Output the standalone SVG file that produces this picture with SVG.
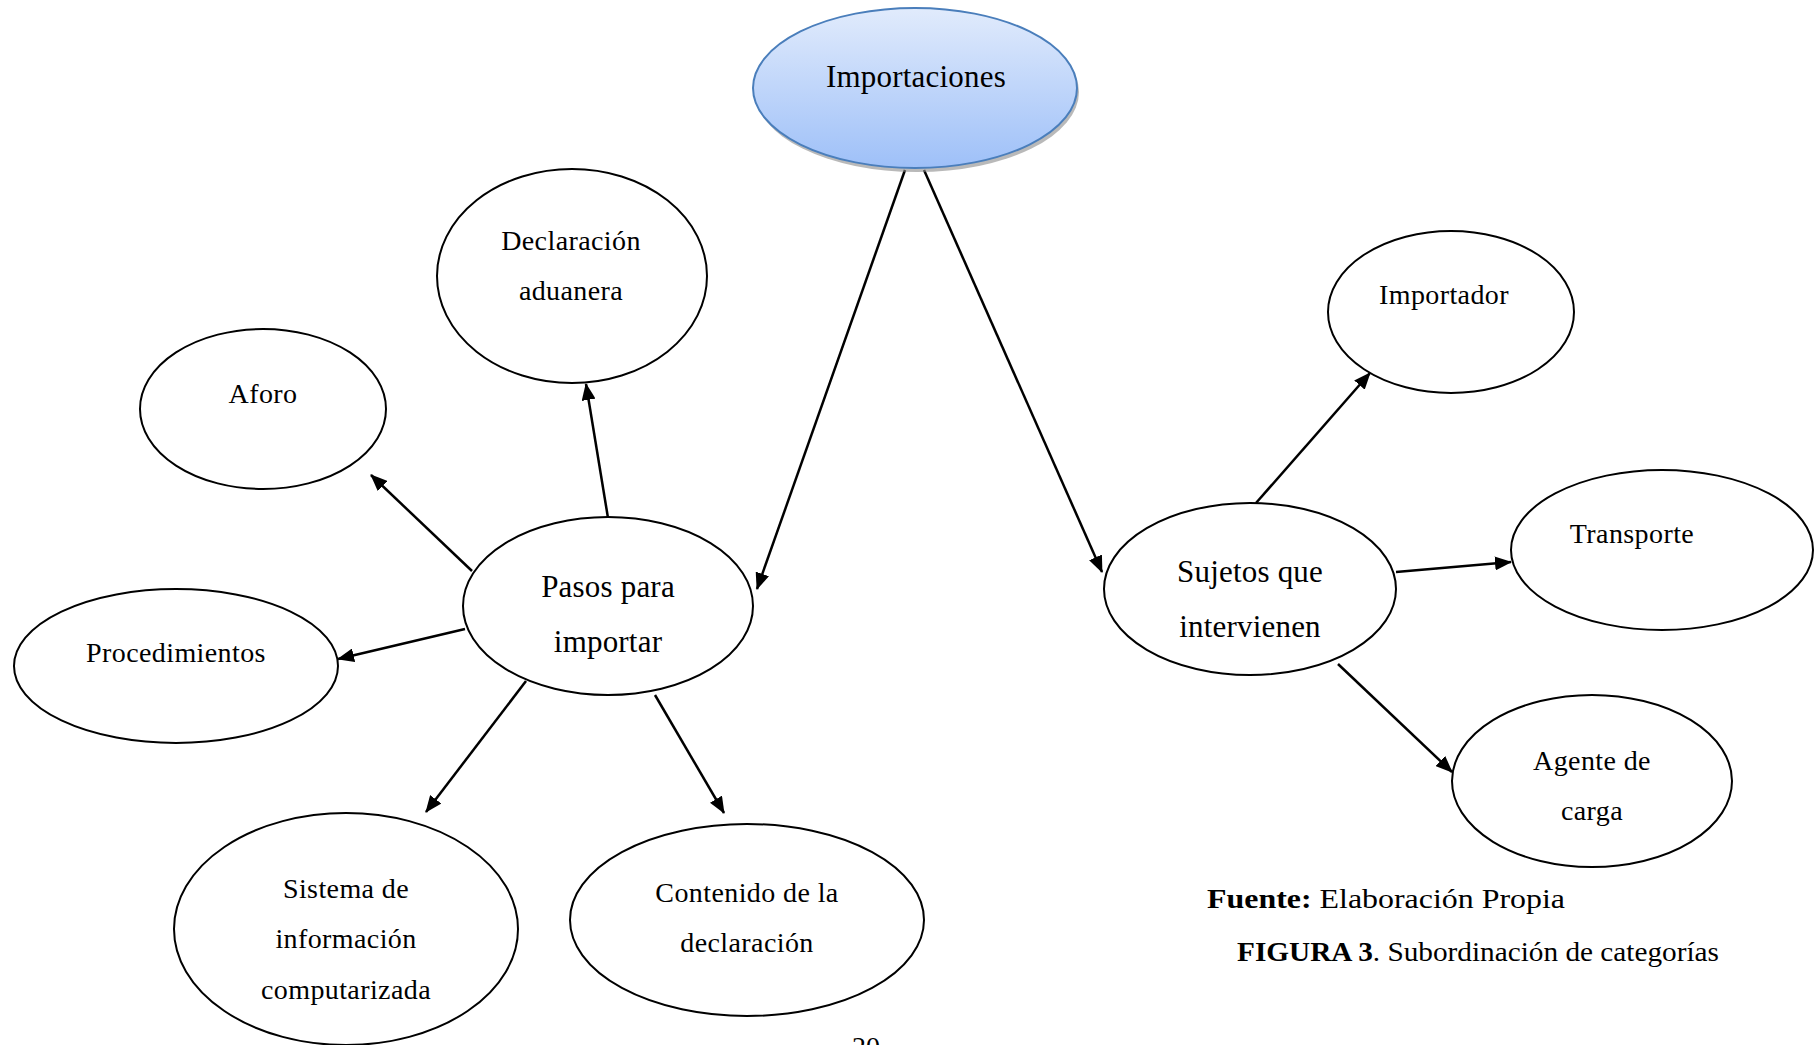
<svg xmlns="http://www.w3.org/2000/svg" width="1817" height="1045" viewBox="0 0 1817 1045">
<style>
.node{fill:#fff;stroke:#000;stroke-width:2}
.lbl{font-family:"Liberation Serif","Times New Roman",serif;font-size:28px;letter-spacing:0.4px;fill:#000;text-anchor:middle}
.big{font-size:31px;letter-spacing:0.2px}
.conn line{stroke:#000;stroke-width:2.5}
.cap{font-family:"Liberation Serif","Times New Roman",serif;font-size:28px;fill:#000}
</style>
<defs>
<linearGradient id="g" x1="0" y1="0" x2="0" y2="1">
<stop offset="0" stop-color="#e1ebfc"/>
<stop offset="1" stop-color="#9ec0f8"/>
</linearGradient>
<marker id="ah" markerUnits="userSpaceOnUse" markerWidth="18" markerHeight="14" refX="16" refY="7" orient="auto">
<path d="M0,0 L17,7 L0,14 Z" fill="#000"/>
</marker>
</defs>
<rect width="1817" height="1045" fill="#fff"/>
<g class="conn">
<line x1="905" y1="170" x2="757" y2="589" marker-end="url(#ah)"/>
<line x1="924" y1="170" x2="1102" y2="572" marker-end="url(#ah)"/>
<line x1="608" y1="518" x2="586" y2="384" marker-end="url(#ah)"/>
<line x1="472" y1="571" x2="371" y2="475" marker-end="url(#ah)"/>
<line x1="465" y1="629" x2="338" y2="659" marker-end="url(#ah)"/>
<line x1="526" y1="681" x2="426" y2="812" marker-end="url(#ah)"/>
<line x1="655" y1="695" x2="724" y2="813" marker-end="url(#ah)"/>
<line x1="1256" y1="503" x2="1370" y2="373" marker-end="url(#ah)"/>
<line x1="1396" y1="572" x2="1511" y2="562" marker-end="url(#ah)"/>
<line x1="1338" y1="664" x2="1452" y2="772" marker-end="url(#ah)"/>
</g>
<g id="importaciones">
<ellipse cx="917" cy="92" rx="162" ry="80" fill="#8a8a8a" opacity="0.6"/>
<ellipse cx="915" cy="88" rx="162" ry="80" fill="url(#g)" stroke="#4a7ebb" stroke-width="2"/>
<text class="lbl" x="916" y="87" style="font-size:31px;letter-spacing:0.2px">Importaciones</text>
</g>
<g id="declaracion">
<ellipse class="node" cx="572" cy="276" rx="135" ry="107"/>
<text class="lbl" x="571" y="250">Declaración</text>
<text class="lbl" x="571" y="300">aduanera</text>
</g>
<g id="aforo">
<ellipse class="node" cx="263" cy="409" rx="123" ry="80"/>
<text class="lbl" x="263" y="403">Aforo</text>
</g>
<g id="pasos">
<ellipse class="node" cx="608" cy="606" rx="145" ry="89"/>
<text class="lbl big" x="608" y="597">Pasos para</text>
<text class="lbl big" x="608" y="652">importar</text>
</g>
<g id="procedimientos">
<ellipse class="node" cx="176" cy="666" rx="162" ry="77"/>
<text class="lbl" x="176" y="662">Procedimientos</text>
</g>
<g id="sistema">
<ellipse class="node" cx="346" cy="929" rx="172" ry="116"/>
<text class="lbl" x="346" y="898">Sistema de</text>
<text class="lbl" x="346" y="948">información</text>
<text class="lbl" x="346" y="999">computarizada</text>
</g>
<g id="contenido">
<ellipse class="node" cx="747" cy="920" rx="177" ry="96"/>
<text class="lbl" x="747" y="902">Contenido de la</text>
<text class="lbl" x="747" y="952">declaración</text>
</g>
<g id="sujetos">
<ellipse class="node" cx="1250" cy="589" rx="146" ry="86"/>
<text class="lbl big" x="1250" y="582">Sujetos que</text>
<text class="lbl big" x="1250" y="637">intervienen</text>
</g>
<g id="importador">
<ellipse class="node" cx="1451" cy="312" rx="123" ry="81"/>
<text class="lbl" x="1444" y="304">Importador</text>
</g>
<g id="transporte">
<ellipse class="node" cx="1662" cy="550" rx="151" ry="80"/>
<text class="lbl" x="1632" y="543">Transporte</text>
</g>
<g id="agente">
<ellipse class="node" cx="1592" cy="781" rx="140" ry="86"/>
<text class="lbl" x="1592" y="770">Agente de</text>
<text class="lbl" x="1592" y="820">carga</text>
</g>
<text class="cap" x="1207" y="908" textLength="358" lengthAdjust="spacingAndGlyphs"><tspan font-weight="bold">Fuente:</tspan> Elaboración Propia</text>
<text class="cap" x="1237" y="961" textLength="482" lengthAdjust="spacingAndGlyphs" style="font-size:27px"><tspan font-weight="bold">FIGURA 3</tspan>. Subordinación de categorías</text>
<text class="cap" x="852" y="1056">20</text>
</svg>
